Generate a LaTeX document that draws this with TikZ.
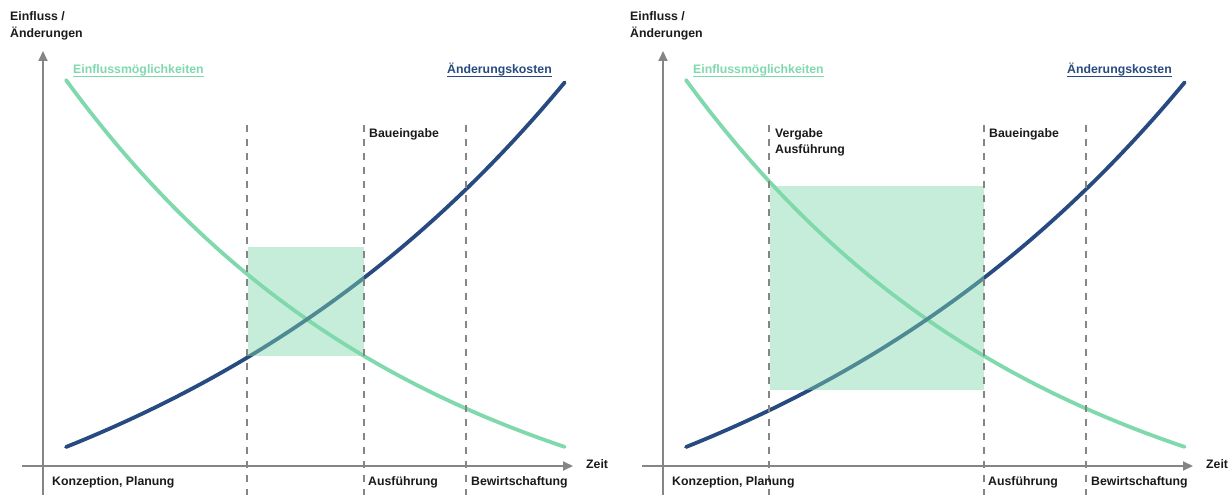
\documentclass[tikz,border=0pt]{standalone}
\usepackage{fontspec}
\setmainfont{Liberation Sans}
\usetikzlibrary{arrows.meta}
\definecolor{infl}{HTML}{80D8AD}
\definecolor{cost}{HTML}{274B80}
\definecolor{axisgray}{HTML}{858585}
\definecolor{ink}{HTML}{1A1A1A}

% One chart: #1 name prefix, #2 x of the first phase line,
% #3/#4 top/bottom of the shaded window, #5 extra label above the window
\newcommand\chartpanel[5]{%
  % curves
  \draw[curve, infl] plot[domain=0:1, samples=80, variable=\t]
    ({66+499*\t}, {447-367*(exp(1.4*(1-\t))-1)/(exp(1.4)-1)});
  \draw[curve, cost] plot[domain=0:1, samples=80, variable=\t]
    ({66+499*\t}, {447-365*(exp(1.1*\t)-1)/(exp(1.1)-1)});
  % shaded window between the first phase line and the permit line
  \fill[window] (#2+1,#3) rectangle (364,#4);
  % phase lines
  \coordinate (#1p1t) at (#2,125);  \coordinate (#1p1b) at (#2,495);
  \coordinate (#1p2t) at (364,125); \coordinate (#1p2b) at (364,495);
  \coordinate (#1p3t) at (466,125); \coordinate (#1p3b) at (466,495);
  \draw[phase] (#1p1t) -- (#1p1b);
  \draw[phase] (#1p2t) -- (#1p2b);
  \draw[phase] (#1p3t) -- (#1p3b);
  % axes
  \coordinate (#1yb) at (43,495); \coordinate (#1yt) at (43,51);
  \coordinate (#1xl) at (22,466); \coordinate (#1xr) at (573,466);
  \draw[axis] (#1yb) -- (#1yt);
  \draw[axis] (#1xl) -- (#1xr);
  % axis titles
  \node[lbl] (#1ya) at (10,21) {Einfluss /};
  \node[lbl] (#1yb2) at (10,37.5) {Änderungen};
  \node[lbl] (#1zeit) at (586,468) {Zeit};
  % curve titles
  \node[lbl, text=infl] (#1infl) at (73,74) {Einflussmöglichkeiten};
  \draw[infl, line width=1pt] ([yshift=-2.3pt]#1infl.base west) -- ([yshift=-2.3pt]#1infl.base east);
  \node[lbl, text=cost] (#1cost) at (447,74) {Änderungskosten};
  \draw[cost, line width=1pt] ([yshift=-2.3pt]#1cost.base west) -- ([yshift=-2.3pt]#1cost.base east);
  % phase titles
  \node[lbl] (#1bau) at (369,137) {Baueingabe};
  #5
  \node[lbl] (#1konz) at (52,485) {Konzeption, Planung};
  \node[lbl] (#1ausf) at (368,485) {Ausführung};
  \node[lbl] (#1bew) at (471,485) {Bewirtschaftung};
}

\begin{document}
\begin{tikzpicture}[x=1pt, y=-1pt,
  lbl/.style={font=\fontsize{12.3}{14}\selectfont\bfseries, inner sep=0pt,
    anchor=base west, text=ink},
  axis/.style={axisgray, line width=2pt, -{Triangle[length=10pt,width=9pt]}},
  phase/.style={axisgray, line width=1.8pt, dash pattern=on 7pt off 7pt},
  curve/.style={line width=3.8pt, line cap=round},
  window/.style={fill=infl, fill opacity=0.45},
  ]
\useasboundingbox (0,0) rectangle (1232,495);

\chartpanel{L}{247}{247}{356}{}

\begin{scope}[xshift=620pt]
\chartpanel{R}{149}{186}{390}{%
  \node[lbl] (Rverg) at (155,137) {Vergabe};
  \node[lbl] (Rvaus) at (155,153) {Ausführung};}
\end{scope}
\end{tikzpicture}
\end{document}
